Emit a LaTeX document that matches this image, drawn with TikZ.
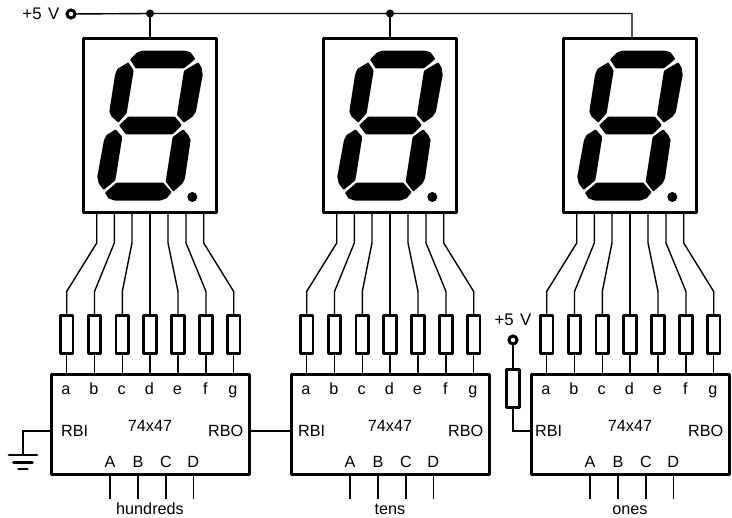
\documentclass[tikz,border=0pt]{standalone}
\usepackage{fontspec}
\setmainfont{Liberation Sans}
\tikzset{
    wire/.style={line width=1.4pt},
    thickbox/.style={draw, line width=3pt, line join=round, outer sep=0pt, inner sep=0pt},
    display/.style={thickbox, minimum width=133.4pt, minimum height=174.4pt},
    chip/.style={thickbox, minimum width=198pt, minimum height=100pt},
    resistor/.style={thickbox, line width=2.8pt, minimum width=12.5pt, minimum height=38pt},
    terminal/.style={circle, draw, line width=3pt, minimum size=8pt, inner sep=0pt, outer sep=0pt},
    junction/.style={circle, fill=black, minimum size=8pt, inner sep=0pt, outer sep=0pt},
    pinlabel/.style={font=\fontsize{16.2}{17}\selectfont, inner sep=0pt, anchor=base},
    supply/.style={font=\fontsize{16.8}{17}\selectfont, inner sep=0pt},
    gndbar/.style={line width=2.8pt, line cap=round},
    segment/.style={fill=black, rounded corners=0.8pt}
}
% seven segments and the point, in a third of a pixel
\newcommand{\digitsegs}{
    \fill[segment] (390,178) -- (412,157) -- (428,152) -- (556,152) -- (572,157) -- (586,177) -- (552,205) -- (407,205) -- cycle;
    \fill[segment] (385,187) -- (401,212) -- (380,340) -- (355,368) -- (334,349) -- (328,335) -- (345,225) -- (352,207) -- cycle;
    \fill[segment] (595,187) -- (605,203) -- (608,225) -- (588,335) -- (578,350) -- (552,368) -- (531,345) -- (552,212) -- cycle;
    \fill[segment] (357,376) -- (385,350) -- (525,350) -- (546,376) -- (518,403) -- (378,403) -- cycle;
    \fill[segment] (347,388) -- (367,411) -- (346,541) -- (311,570) -- (296,550) -- (292,530) -- (312,420) -- (320,405) -- cycle;
    \fill[segment] (550,388) -- (565,405) -- (572,420) -- (555,535) -- (548,550) -- (520,575) -- (497,545) -- (518,411) -- cycle;
    \fill[segment] (315,578) -- (350,548) -- (490,548) -- (515,577) -- (500,595) -- (480,602) -- (345,602) -- (325,595) -- cycle;
    \fill (577,591) circle (15);
}
\begin{document}
\begin{tikzpicture}[x=1pt,y=-1pt]
    \useasboundingbox (0,0) rectangle (732,518);

    % One display with its driver
    \foreach \d/\x/\rbix/\name in {1/0/61/hundreds,2/240/58/tens,3/480/55/ones}{
        \begin{scope}[shift={(\x,0)}]
            \node[display] (disp\d) at (150,125.5) {};
            \begin{scope}[x=0.3333pt,y=-0.3333pt]
                \digitsegs
            \end{scope}
            \node[chip] (chip\d) at (150,425) {};

            % Segment lines
            \foreach \s/\px/\rx in {a/96.7/66.7,b/114.3/94.5,c/132/122.3,d/150/150,e/168/178,f/186/206,g/203.7/233.7}{
                \node[resistor] (res\d\s) at (\rx,334.5) {};
                \coordinate (bend\d\s) at (\px,243);
                \draw[wire] (bend\d\s |- disp\d.south) -- (bend\d\s) -- (\rx,291.5) -- (res\d\s.north);
                \draw[wire] (res\d\s.south) -- (res\d\s |- chip\d.north);
                \node[pinlabel] (lab\d\s) at (\rx-0.7,395) {\s};
            }

            % Inputs
            \foreach \s/\px in {A/110,B/138,C/166,D/193.3}{
                \node[pinlabel] (lab\d\s) at (\px,468) {\s};
                \coordinate (in\d\s) at (\px,499);
                \draw[wire] (in\d\s |- chip\d.south) -- (in\d\s);
            }

            \node[pinlabel] (type\d) at (150,431.5) {74x47};
            \node[pinlabel, anchor=base west] (rbi\d) at (\rbix,437) {RBI};
            \node[pinlabel, anchor=base east] (rbo\d) at (243.5,437) {RBO};
            \coordinate (rbipin\d) at (51,431);
            \coordinate (rbopin\d) at (249,431);
            \node[pinlabel] (name\d) at (150,515) {\name};
        \end{scope}
    }

    % +5 V rail
    \node[terminal] (vcc) at (71,14) {};
    \node[supply, anchor=base east] (vcclabel) at (59.5,19.5) {+5\hspace{6.5pt}V};
    \node[junction] (dot1) at (150,13.5) {};
    \node[junction] (dot2) at (390,13.5) {};
    \coordinate (railend) at (632,13.5);
    \draw[wire] (vcc) -- (dot1) -- (dot2) -- (railend) -- (railend |- disp3.north);
    \draw[wire] (dot1) -- (disp1.north);
    \draw[wire] (dot2) -- (disp2.north);

    % Ripple blanking
    \draw[wire] (rbopin1) -- (rbipin2);

    % Ground
    \coordinate (gnd) at (23,455);
    \coordinate (gndb) at (23,462.3);
    \coordinate (gndc) at (23,469);
    \draw[wire] (rbipin1) -| (gnd);
    \draw[gndbar] ([xshift=-14pt]gnd) -- ([xshift=14pt]gnd);
    \draw[gndbar] ([xshift=-9.5pt]gndb) -- ([xshift=9.5pt]gndb);
    \draw[gndbar] ([xshift=-4.5pt]gndc) -- ([xshift=4.5pt]gndc);

    % Pull-up on the last driver
    \node[resistor] (respull) at (513,388.5) {};
    \node[terminal] (vccpull) at (513,340) {};
    \node[supply, anchor=base] (pulllabel) at (513,326) {+5\hspace{6.5pt}V};
    \draw[wire] (vccpull) -- (respull.north);
    \draw[wire] (respull.south) |- (rbipin3);
\end{tikzpicture}
\end{document}
